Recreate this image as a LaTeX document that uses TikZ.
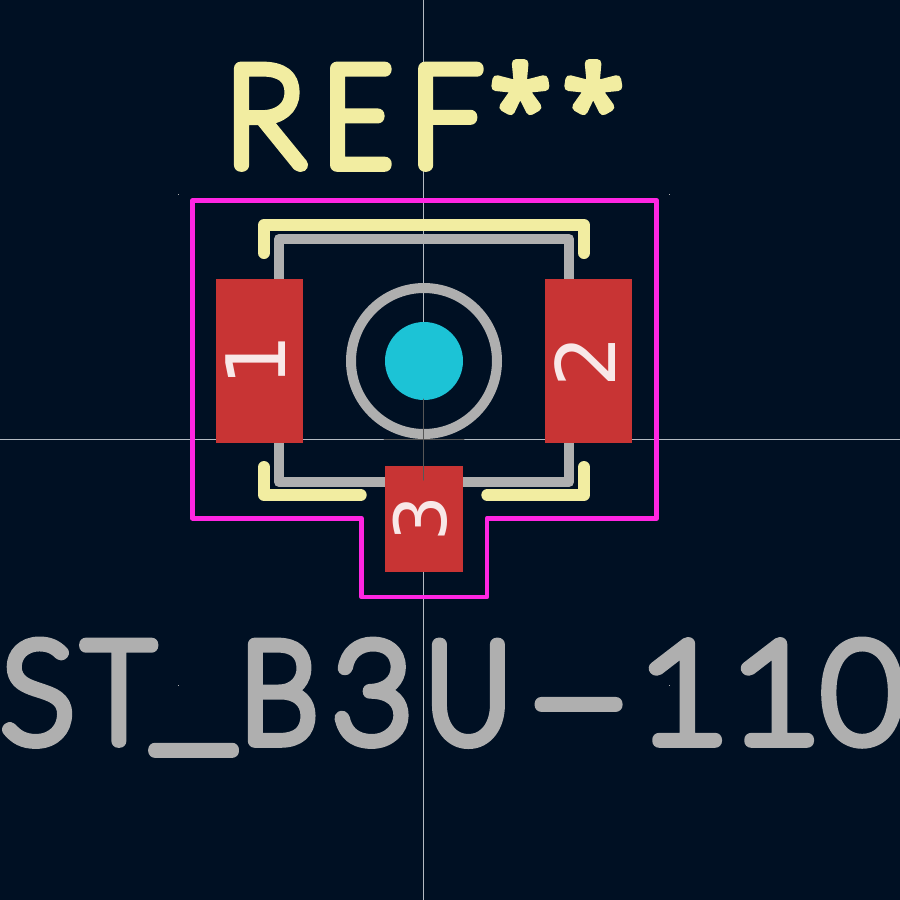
\documentclass[tikz,border=0pt]{standalone}
\usepackage{fontspec}
\newfontfamily\padfont{DejaVu Sans}
\newcommand{\gl}[3]{\makebox[#1pt][l]{\fontspec[FakeBold=9.8,FakeStretch=#2]{Lato Hairline}\fontsize{138}{138}\selectfont #3}}
\newcommand{\astr}[1]{\makebox[#1pt][l]{\raisebox{18pt}{\fontspec[FakeBold=8]{Open Sans Light}\fontsize{110}{110}\selectfont *}}}
\definecolor{bgc}{HTML}{001023}
\definecolor{padc}{HTML}{C83434}
\definecolor{padtxt}{HTML}{F8E8E8}
\definecolor{crtyd}{HTML}{FF26E2}
\definecolor{silk}{HTML}{F2EDA1}
\definecolor{fab}{HTML}{AFAFAF}
\definecolor{hole}{HTML}{1CC3D6}
\definecolor{axis}{HTML}{B4BBC2}
\tikzset{
  crtydline/.style={draw=crtyd,line width=4.5pt,line join=round,line cap=round},
  silkline/.style={draw=silk,line width=12pt,line join=round,line cap=round},
  fabline/.style={draw=fab,line width=10pt,line join=round},
  axisline/.style={draw=axis,line width=0.8pt},
  originline/.style={draw=black!50!fab,line width=1pt},
  padbox/.style={fill=padc,draw=none},
  padnum/.style={text=padtxt,font=\padfont\fontsize{82}{82}\selectfont,inner sep=0pt,rotate=90},
  bigtext/.style={inner sep=0pt,anchor=base west}
}
\begin{document}
\begin{tikzpicture}[x=1pt,y=-1pt]
\useasboundingbox (0,0) rectangle (900,900);
\clip (0,0) rectangle (900,900);
\fill[bgc] (0,0) rectangle (900,900);
\coordinate (vt) at (423.3,0); \coordinate (vb) at (423.3,900);
\coordinate (hl) at (0,439); \coordinate (hr) at (900,439);
\draw[axisline] (vt) -- (vb);
\draw[axisline] (hl) -- (hr);
\foreach \px/\py in {178/194,669/194,178/685,669/685}{\fill[fab] (\px,\py) rectangle +(1,1);}
\special{pdf:literal 1 j 1 J}
\node[bigtext,text=silk] (ref) at (225,165) {\gl{98}{0.97}{R}\gl{87}{0.85}{E}\gl{80}{0.92}{F}\astr{73}\astr{70}};
\node[bigtext,text=fab] (val) at (1,741) {\gl{83}{1}{S}\gl{66}{0.88}{T}\gl{90}{1.42}{\raisebox{8pt}{\_}}\gl{92}{0.9}{B}\gl{94}{1}{3}\gl{90}{0.85}{U}\gl{120}{2.45}{\raisebox{-4pt}{-}}\gl{92}{1.17}{1}\gl{94}{1.17}{1}\gl{70}{1}{0}};
\draw[crtydline] (192.5,200.3) -- (656.7,200.3) -- (656.7,518.3) -- (487,518.3) -- (487,597) -- (361.7,597) -- (361.7,518.3) -- (192.5,518.3) -- cycle;
\draw[fabline] (279,239) rectangle (569,482);
\draw[fab,line width=10pt] (424,361) circle (73);
\draw[silkline] (264,253) -- (264,225) -- (584,225) -- (584,253);
\draw[silkline] (264,467) -- (264,495) -- (360.7,495);
\draw[silkline] (584,467) -- (584,495) -- (487.3,495);
\fill[hole] (424,361) circle (39);
\fill[padbox] (216,279) rectangle (303,443);
\fill[padbox] (545,279) rectangle (632,443);
\fill[padbox] (385,466) rectangle (463,572);
\node[padnum] (p1) at (256,360) {1};
\node[padnum] (p2) at (585,361) {2};
\node[padnum,font=\padfont\fontsize{72}{72}\selectfont] (p3) at (420,519) {3};
\draw[originline] (423.3,399) -- (423.3,480);
\draw[originline] (384,439) -- (464,439);
\end{tikzpicture}
\end{document}
